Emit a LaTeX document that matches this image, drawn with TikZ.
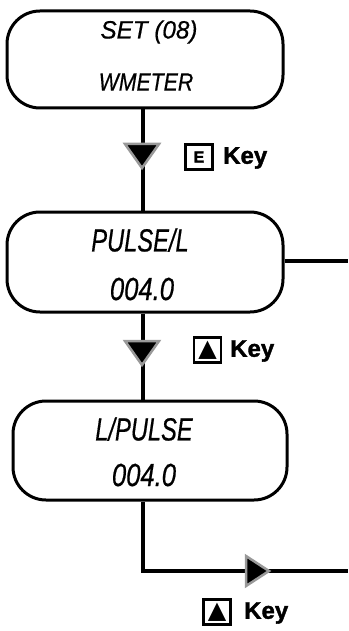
\documentclass[tikz,border=0pt]{standalone}
\usepackage{fontspec}
\setmainfont{Liberation Sans}
\newfontfamily\dejavu{DejaVu Sans}
\newfontfamily\lcdfont[ItalicFeatures={FakeBold=0.6}]{Liberation Sans}
\newfontfamily\keyfont[BoldFeatures={FakeBold=1.5}]{Liberation Sans}
\usetikzlibrary{positioning}
\tikzset{
  lcdbox/.style={draw, line width=3pt, rounded corners=33pt, inner sep=0pt},
  conn/.style={line width=4pt},
  marker/.style={fill=black, draw=black!40, line width=2.5pt, line join=miter},
  keybox/.style={draw, line width=2.6pt, inner sep=0pt, minimum width=27pt, minimum height=25pt},
  keytxt/.style={font=\keyfont\fontsize{24}{24}\selectfont\bfseries, inner sep=0pt, anchor=west},
  lcdA/.style={font=\lcdfont\fontsize{25}{25}\selectfont\itshape, inner sep=0pt},
  lcdB/.style={font=\lcdfont\fontsize{32}{32}\selectfont\itshape, inner sep=0pt},
}
\begin{document}
\begin{tikzpicture}[x=1pt,y=-1pt]
\useasboundingbox (0,0) rectangle (348,631);
% boxes
\draw[lcdbox] (7,11) rectangle (283,108);
\draw[lcdbox] (7,212) rectangle (283,312);
\draw[lcdbox] (13,401) rectangle (287,500);
\coordinate (b1s) at (143,109.5);
\coordinate (b2n) at (143,210.5);
\coordinate (b2s) at (143,313.5);
\coordinate (b2e) at (284.5,261);
\coordinate (b3n) at (143,399.5);
\coordinate (b3s) at (143,501.5);
\coordinate (out1) at (348,261);
\coordinate (bend) at (143,571);
\coordinate (out2) at (348,571);
% texts
\node[lcdA] (t1a) at (149,32) {\scalebox{0.97}[1]{SET (08)}};
\node[lcdA] (t1b) at (146,82) {\scalebox{0.85}[1]{WMETER}};
\node[lcdB] (t2a) at (140,240) {\scalebox{0.74}[1]{PULSE/L}};
\node[lcdB] (t2b) at (142,289) {\scalebox{0.8}[1]{004.0}};
\node[lcdB] (t3a) at (144,429) {\scalebox{0.74}[1]{L/PULSE}};
\node[lcdB] (t3b) at (144,475) {\scalebox{0.8}[1]{004.0}};
% connectors
\draw[conn] (b1s) -- (b2n);
\draw[conn] (b2s) -- (b3n);
\draw[conn] (b2e) -- (out1);
\draw[conn] (b3s) -- (bend) -- (out2);
% markers
\draw[marker] (125,144) -- (159,144) -- (142,168) -- cycle;
\draw[marker] (125,341) -- (159,341) -- (142,365) -- cycle;
\draw[marker] (246,556) -- (269,571) -- (246,586) -- cycle;
% key labels
\node[keybox] (k1) at (199,157) {\keyfont\fontsize{16}{16}\selectfont\bfseries E};
\node[keytxt] (k1t) at (223,158) {Key};
\node[keybox] (k2) at (207.5,350) {\dejavu\fontsize{24}{24}\selectfont ▲};
\node[keytxt] (k2t) at (230,351) {Key};
\node[keybox] (k3) at (217,612) {\dejavu\fontsize{24}{24}\selectfont ▲};
\node[keytxt] (k3t) at (244,613) {Key};
\end{tikzpicture}
\end{document}
